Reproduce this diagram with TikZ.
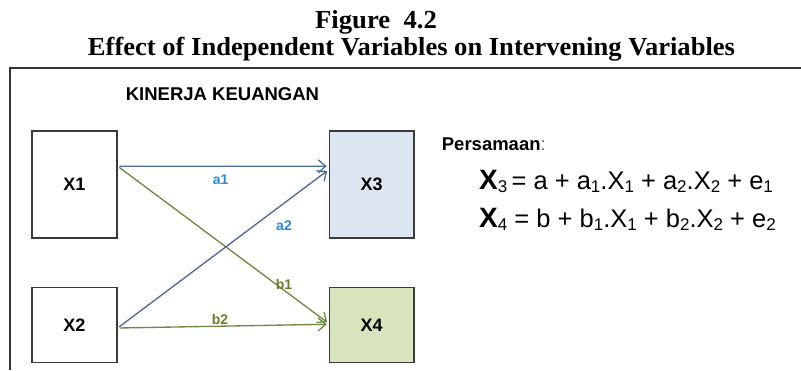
\documentclass[tikz,border=0pt]{standalone}
\usepackage{fontspec}
\usepackage{graphicx}
\setmainfont{Liberation Sans}
\newfontfamily\serifttl{Liberation Serif}
\usetikzlibrary{arrows.meta}
\definecolor{arrowblue}{HTML}{4F6D92}
\definecolor{arrowgreen}{HTML}{6F8A45}
\definecolor{lblblue}{HTML}{2F86D0}
\definecolor{lblgreen}{HTML}{6E7D2C}
\definecolor{fillblue}{HTML}{DCE6F2}
\definecolor{fillgreen}{HTML}{D7E4BD}
\definecolor{boxline}{HTML}{3A3A3A}
\newcommand{\sbs}[1]{\raisebox{-0.13em}{\fontsize{17}{17}\selectfont #1}}
\begin{document}
\begin{tikzpicture}[x=1pt,y=-1pt,
  varbox/.style={draw=boxline, line width=1.3pt, inner sep=0pt, font=\fontsize{18}{18}\selectfont\bfseries},
  conn/.style={line width=1.35pt, -{Straight Barb[length=7.5pt,width=13pt,line width=1.3pt]}, shorten <=2pt, shorten >=2pt},
  coef/.style={font=\fontsize{14}{14}\selectfont\bfseries, inner sep=0pt},
  plaintext/.style={inner sep=0pt}
]
\useasboundingbox (0,0) rectangle (801,370);

% title
\node[plaintext, anchor=base, font=\serifttl\bfseries\fontsize{26}{26}\selectfont] (t1) at (376,28.3)
  {\resizebox{121.7pt}{\height}{Figure\ \ 4.2}};
\node[plaintext, anchor=base, font=\serifttl\bfseries\fontsize{26}{26}\selectfont] (t2) at (411.5,55.5)
  {\resizebox{647pt}{\height}{Effect of Independent Variables on Intervening Variables}};

% frame
\draw[line width=1.6pt, draw=black!80] (10,370) -- (10,68) -- (801,68);

% heading
\node[plaintext, anchor=base, font=\fontsize{18.5}{18.5}\selectfont\bfseries] (kk) at (222.5,100) {KINERJA KEUANGAN};

% boxes
\node[varbox, minimum width=85pt, minimum height=107pt] (x1) at (74.5,184.5) {X1};
\node[varbox, minimum width=85pt, minimum height=75.4pt] (x2) at (74.5,325) {X2};
\node[varbox, fill=fillblue, minimum width=84.7pt, minimum height=107pt] (x3) at (371.7,184.5) {X3};
\node[varbox, fill=fillgreen, minimum width=84.7pt, minimum height=75.4pt] (x4) at (371.7,325) {X4};

% connectors
\draw[conn, arrowblue] (x1.23) -- (x3.157);
\draw[conn, arrowgreen] (x1.23) -- (x4.178);
\draw[conn, arrowblue] (x2.-4) -- (x3.161);
\draw[conn, arrowgreen] (x2.-4) -- (x4.179);

% coefficient labels
\node[coef, text=lblblue] (la1) at (220.7,180) {a1};
\node[coef, text=lblblue] (la2) at (284,225.7) {a2};
\node[coef, text=lblgreen] (lb1) at (284,284) {b1};
\node[coef, text=lblgreen] (lb2) at (220,319.5) {b2};

% equations
\node[plaintext, anchor=base west, font=\fontsize{18.5}{18.5}\selectfont] (pers) at (441.7,150.7)
  {\textbf{Persamaan}\textcolor{black!60}{:}};
\node[plaintext, anchor=base west, font=\fontsize{25.5}{25.5}\selectfont] (eq1) at (479,189.5)
  {{\fontsize{28}{28}\selectfont\bfseries X}\sbs{3}\,= a + a\sbs{1}.X\sbs{1} + a\sbs{2}.X\sbs{2} + e\sbs{1}};
\node[plaintext, anchor=base west, font=\fontsize{25.5}{25.5}\selectfont] (eq2) at (479,227)
  {{\fontsize{28}{28}\selectfont\bfseries X}\sbs{4} = b + b\sbs{1}.X\sbs{1} + b\sbs{2}.X\sbs{2} + e\sbs{2}};
\end{tikzpicture}
\end{document}
